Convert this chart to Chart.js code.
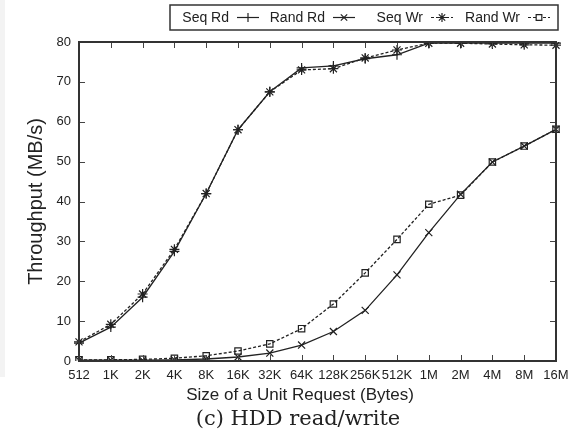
<!DOCTYPE html>
<html>
<head>
<meta charset="utf-8">
<script src="https://cdn.jsdelivr.net/npm/chart.js@4.4.1/dist/chart.umd.min.js"></script>
<style>
  html, body { margin: 0; padding: 0; background: #fff; }
  #wrap { position: relative; width: 568px; height: 433px; }
  #strip { position: absolute; left: 0; top: 0; width: 5px; height: 377px; background: #f3f3f3; }
  #xTitle { position: absolute; left: 0; width: 600px; top: 385px; text-align: center;
            font-family: "Liberation Sans", Arial, sans-serif; font-size: 17px; color: #222; }
  #caption { position: absolute; left: 0; width: 596px; top: 406px; text-align: center;
             font-family: "DejaVu Serif", "Liberation Serif", serif; font-size: 21px; color: #222; }
</style>
</head>
<body>
<div id="wrap">
  <div id="strip"></div>
  <canvas id="hddChart" width="568" height="433"></canvas>
  <div id="xTitle">Size of a Unit Request (Bytes)</div>
  <div id="caption">(c) HDD read/write</div>
</div>
<script>
// request sizes on the x axis
var sizes = ["512","1K","2K","4K","8K","16K","32K","64K","128K","256K","512K","1M","2M","4M","8M","16M"];

// throughput in MB/s
var seqRd  = [4.5, 8.5, 16, 27.5, 42, 58, 67.5, 73.5, 74, 75.8, 76.8, 79.7, 79.7, 79.7, 79.7, 79.7];
var randRd = [0.2, 0.2, 0.2, 0.3, 0.5, 1.0, 2.0, 4.0, 7.4, 12.7, 21.6, 32.2, 41.8, 49.9, 53.9, 58.1];
var seqWr  = [4.8, 9.2, 16.8, 28, 42, 58, 67.5, 73, 73.3, 76, 78, 79.7, 79.7, 79.5, 79.3, 79.2];
var randWr = [0.3, 0.3, 0.4, 0.7, 1.3, 2.5, 4.3, 8.1, 14.3, 22.1, 30.5, 39.3, 41.6, 49.9, 53.9, 58.1];

var ink = '#222';

function series(label, values, style, dashed) {
  return {
    label: label,
    data: values,
    borderColor: ink,
    backgroundColor: 'rgba(0,0,0,0)',
    borderWidth: 1.3,
    borderDash: dashed ? [3, 2] : [],
    pointStyle: style,
    pointRadius: style == 'rect' ? 4.5 : 5,
    pointBorderWidth: 1.2,
    pointBorderColor: ink,
    pointBackgroundColor: 'rgba(0,0,0,0)',
    tension: 0
  };
}

// gnuplot style: full border, inward ticks on all four sides
var frame = {
  id: 'frame',
  afterDraw: function(chart) {
    var ctx = chart.ctx, a = chart.chartArea;
    var xs = chart.scales.x, ys = chart.scales.y;
    ctx.save();
    ctx.strokeStyle = '#444';
    ctx.lineWidth = 1;
    ctx.beginPath();
    ys.ticks.forEach(function(t, i) {
      var y = Math.round(ys.getPixelForTick(i)) + 0.5;
      ctx.moveTo(a.left, y); ctx.lineTo(a.left + 6, y);
      ctx.moveTo(a.right, y); ctx.lineTo(a.right - 6, y);
    });
    xs.ticks.forEach(function(t, i) {
      var x = Math.round(xs.getPixelForTick(i)) + 0.5;
      ctx.moveTo(x, a.bottom); ctx.lineTo(x, a.bottom - 6);
      ctx.moveTo(x, a.top); ctx.lineTo(x, a.top + 6);
    });
    ctx.stroke();
    ctx.lineWidth = 2;
    ctx.strokeStyle = '#333';
    ctx.strokeRect(a.left, a.top, a.right - a.left, a.bottom - a.top);
    ctx.restore();
  }
};

// legend in a box, label first then the line sample
var keyBox = {
  id: 'keyBox',
  afterDraw: function(chart) {
    var ctx = chart.ctx;
    var left = 170, right = 558, top = 5, bottom = 30;
    var mid = (top + bottom) / 2;
    ctx.save();
    ctx.fillStyle = '#fff';
    ctx.fillRect(left, top, right - left, bottom - top);
    ctx.strokeStyle = '#333';
    ctx.lineWidth = 1.5;
    ctx.strokeRect(left, top, right - left, bottom - top);
    ctx.font = '14px "Liberation Sans", Arial, sans-serif';
    ctx.textBaseline = 'middle';
    ctx.textAlign = 'right';
    var textEnds = [229, 325, 423, 520];
    chart.data.datasets.forEach(function(ds, i) {
      var tx = textEnds[i];
      ctx.fillStyle = '#222';
      ctx.fillText(ds.label, tx, mid + 0.5);
      var x0 = tx + 8, x1 = tx + 30;
      ctx.strokeStyle = ink;
      ctx.lineWidth = 1.2;
      ctx.setLineDash(ds.borderDash);
      ctx.beginPath();
      ctx.moveTo(x0, mid); ctx.lineTo(x1, mid);
      ctx.stroke();
      ctx.setLineDash([]);
      ctx.fillStyle = '#fff';
      Chart.helpers.drawPoint(ctx, {
        pointStyle: ds.pointStyle, radius: ds.pointStyle == 'rect' ? 4 : 4.5, rotation: 0, borderWidth: 1.2
      }, (x0 + x1) / 2, mid);
    });
    ctx.restore();
  }
};

var chartEl = document.getElementById('hddChart');
var hddChart = new Chart(chartEl, {
  type: 'line',
  data: {
    labels: sizes,
    datasets: [
      series('Seq Rd', seqRd, 'cross', false),
      series('Rand Rd', randRd, 'crossRot', false),
      series('Seq Wr', seqWr, 'star', true),
      series('Rand Wr', randWr, 'rect', true)
    ]
  },
  options: {
    responsive: false,
    animation: false,
    layout: { padding: { left: 24, right: 12, top: 42, bottom: 50 } },
    plugins: {
      legend: { display: false },
      tooltip: { enabled: false }
    },
    scales: {
      x: {
        type: 'category',
        offset: false,
        grid: { display: false, drawTicks: false },
        border: { display: false },
        ticks: {
          autoSkip: false, maxRotation: 0, padding: 7,
          color: '#222', font: { family: '"Liberation Sans", Arial, sans-serif', size: 13 }
        },
        afterFit: function(s) { s.height = 433 - 50 - 361; s.paddingRight = 0; s.paddingLeft = 0; }
      },
      y: {
        min: 0, max: 80,
        grid: { display: false, drawTicks: false },
        border: { display: false },
        ticks: {
          stepSize: 10, padding: 8,
          color: '#222', font: { family: '"Liberation Sans", Arial, sans-serif', size: 13 }
        },
        title: {
          display: true, text: 'Throughput (MB/s)', color: '#222',
          font: { family: '"Liberation Sans", Arial, sans-serif', size: 20 }, padding: 0
        },
        afterFit: function(s) { s.width = 79 - 24; }
      }
    }
  },
  plugins: [frame, keyBox]
});
</script>
</body>
</html>
